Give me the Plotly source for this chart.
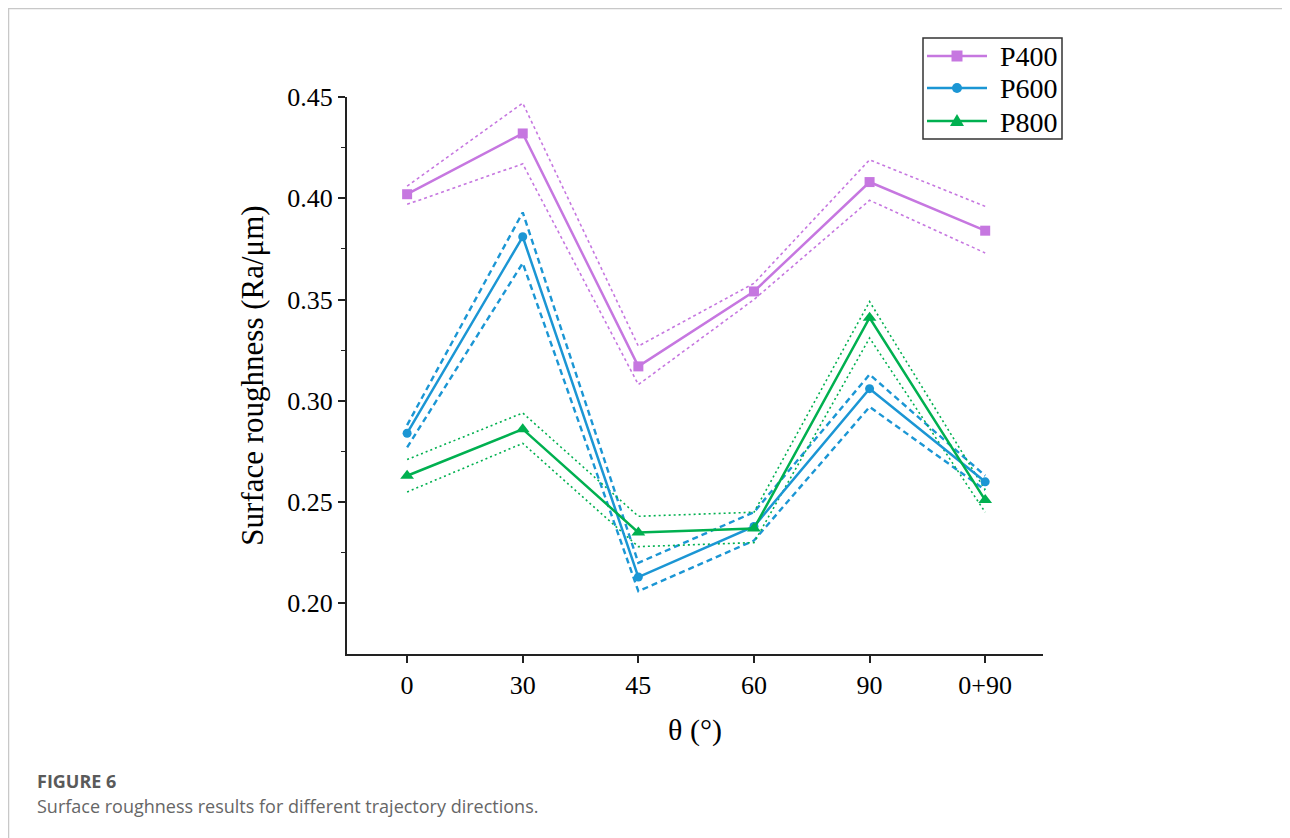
import plotly.graph_objects as go

categories = ["0", "30", "45", "60", "90", "0+90"]

p400 = [0.402, 0.432, 0.317, 0.354, 0.408, 0.384]
p400_hi = [0.406, 0.447, 0.327, 0.358, 0.419, 0.396]
p400_lo = [0.397, 0.417, 0.308, 0.350, 0.399, 0.373]

p600 = [0.284, 0.381, 0.213, 0.238, 0.306, 0.260]
p600_hi = [0.288, 0.393, 0.220, 0.245, 0.313, 0.263]
p600_lo = [0.277, 0.368, 0.206, 0.231, 0.297, 0.256]

p800 = [0.263, 0.286, 0.235, 0.237, 0.341, 0.251]
p800_hi = [0.271, 0.294, 0.243, 0.245, 0.349, 0.256]
p800_lo = [0.255, 0.279, 0.228, 0.230, 0.331, 0.245]

series_names = ["P400", "P600", "P800"]
c400 = "#C677E0"
c600 = "#1B96D4"
c800 = "#00B050"

xi = list(range(len(categories)))
XR = [-0.52, 5.5]
YR = [0.175, 0.45]

fig = go.Figure()

def band(vals, color, dash, width):
    fig.add_trace(go.Scatter(x=xi, y=vals, mode="lines", showlegend=False,
                             line=dict(color=color, dash=dash, width=width),
                             hoverinfo="skip"))

band(p400_hi, c400, "3px,3px", 1.6)
band(p400_lo, c400, "3px,3px", 1.6)
band(p600_hi, c600, "6px,4px", 2.4)
band(p600_lo, c600, "6px,4px", 2.4)
band(p800_hi, c800, "2px,3px", 1.6)
band(p800_lo, c800, "2px,3px", 1.6)

styles = [
    (p400, c400, "square", 10),
    (p600, c600, "circle", 9),
    (p800, c800, "triangle-up", 12),
]
for name, (vals, col, sym, sz) in zip(series_names, styles):
    fig.add_trace(go.Scatter(x=xi, y=vals, name=name, mode="lines+markers",
                             showlegend=False,
                             line=dict(color=col, width=2.5),
                             marker=dict(symbol=sym, size=sz, color=col)))

serif = "Liberation Serif"

# figure sits 8px inside the page (browser body margin)
L, T, PW, PH = 339, 89, 696, 557

def px(xp):
    return (xp - 8 - L) / PW

def py(yp):
    return (T + PH - (yp - 8)) / PH

# custom legend (page pixel positions)
box_x0, box_x1, box_y0, box_y1 = 923, 1062, 38, 139
row_y = [56, 88, 121]
mx = 957
fig.add_shape(type="rect", xref="paper", yref="paper",
              x0=px(box_x0), x1=px(box_x1), y0=py(box_y1), y1=py(box_y0),
              line=dict(color="#333333", width=1.5), fillcolor="rgba(0,0,0,0)")
for name, (vals, col, sym, sz), yy in zip(series_names, styles, row_y):
    fig.add_shape(type="line", xref="paper", yref="paper",
                  x0=px(927), x1=px(987), y0=py(yy), y1=py(yy),
                  line=dict(color=col, width=2.5))
    if sym == "square":
        h = 5.5
        fig.add_shape(type="rect", xref="paper", yref="paper",
                      x0=px(mx - h), x1=px(mx + h), y0=py(yy + h), y1=py(yy - h),
                      line=dict(width=0), fillcolor=col)
    elif sym == "circle":
        r = 5
        fig.add_shape(type="circle", xref="paper", yref="paper",
                      x0=px(mx - r), x1=px(mx + r), y0=py(yy + r), y1=py(yy - r),
                      line=dict(width=0), fillcolor=col)
    else:
        path = "M {:.5f},{:.5f} L {:.5f},{:.5f} L {:.5f},{:.5f} Z".format(
            px(mx), py(yy - 7), px(mx - 7), py(yy + 5), px(mx + 7), py(yy + 5))
        fig.add_shape(type="path", xref="paper", yref="paper", path=path,
                      line=dict(width=0), fillcolor=col)
    fig.add_annotation(xref="paper", yref="paper", x=px(998), y=py(yy + 1),
                       xanchor="left", yanchor="middle", showarrow=False,
                       text=name, font=dict(family=serif, size=28, color="black"))

fig.update_layout(
    width=1282, height=830,
    margin=dict(l=L, r=1282 - L - PW, t=T, b=830 - T - PH),
    paper_bgcolor="white", plot_bgcolor="rgba(0,0,0,0)",
    font=dict(family=serif, color="black"),
    showlegend=False,
    xaxis=dict(
        range=XR, tickmode="array", tickvals=xi, ticktext=categories,
        showgrid=False, zeroline=False, showline=True, linecolor="#222",
        linewidth=2, ticks="outside", ticklen=7, tickwidth=1.5, tickcolor="#222",
        tickfont=dict(family=serif, size=26, color="black"),
        title=dict(text="θ (°)", font=dict(family=serif, size=30, color="black"),
                   standoff=20),
    ),
    yaxis=dict(
        range=YR, tickmode="array",
        tickvals=[0.20, 0.25, 0.30, 0.35, 0.40, 0.45],
        ticktext=["0.20", "0.25", "0.30", "0.35", "0.40", "0.45"],
        showgrid=False, zeroline=False, showline=True, linecolor="#222",
        linewidth=2, ticks="outside", ticklen=7, tickwidth=1.5, tickcolor="#222",
        tickfont=dict(family=serif, size=26, color="black"),
        minor=dict(tickvals=[0.225, 0.275, 0.325, 0.375, 0.425], ticks="outside",
                   ticklen=4, tickwidth=1.2, tickcolor="#222"),
        title=dict(text="Surface roughness (Ra/μm)",
                   font=dict(family=serif, size=31, color="black"), standoff=14),
    ),
)

# page frame
fig.add_shape(type="rect", xref="paper", yref="paper",
              x0=px(8.5), x1=px(1287), y0=py(848), y1=py(8.5),
              line=dict(color="#C8C8C8", width=1.5), fillcolor="rgba(0,0,0,0)",
              layer="below")

fig.add_annotation(xref="paper", yref="paper", x=px(35), y=py(781),
                   xanchor="left", yanchor="middle", showarrow=False,
                   text="<b>FIGURE 6</b>",
                   font=dict(family="Open Sans", size=18, color="#5A5A5A"))
fig.add_annotation(xref="paper", yref="paper", x=px(35), y=py(806),
                   xanchor="left", yanchor="middle", showarrow=False,
                   text="Surface roughness results for different trajectory directions.",
                   font=dict(family="Open Sans", size=18, color="#666666"))

fig.write_html("out.html")
